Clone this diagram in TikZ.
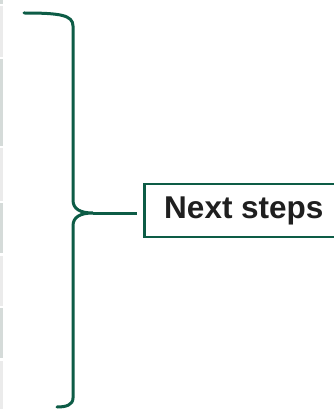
\documentclass[tikz,border=0pt]{standalone}
\usepackage{fontspec}
\setmainfont{Liberation Sans}
\definecolor{brgreen}{HTML}{0D5C46}
\definecolor{stripdark}{HTML}{D5DBD9}
\definecolor{striplight}{HTML}{EBEBEB}
\begin{document}
\begin{tikzpicture}[x=1pt,y=-1pt,
  brace/.style={draw=brgreen,line width=3pt,line cap=round},
  label box/.style={draw=brgreen,line width=2.8pt,fill=white,minimum width=199pt,minimum height=53pt,inner sep=0pt,font=\bfseries\fontsize{31.5}{34}\selectfont,text=black!88},
  stripd/.style={fill=stripdark,draw=none},
  stripl/.style={fill=striplight,draw=none}]
\useasboundingbox (0,0) rectangle (333,409);
\fill[white] (0,0) rectangle (333,409);
% left strips
\path[stripd] (0,0) rectangle (3,4);
\path[stripl] (0,6) rectangle (3,57);
\path[stripd] (0,59) rectangle (3,146);
\path[stripl] (0,148) rectangle (3,201);
\path[stripd] (0,203) rectangle (3,253);
\path[stripl] (0,256) rectangle (3,306);
\path[stripd] (0,308) rectangle (3,358);
\path[stripl] (0,361) rectangle (3,409);
% brace
\coordinate (tip) at (93,213);
\path[brace] (24,13) .. controls (60,13) and (73,15) .. (73,26)
  -- (73,200) .. controls (73,209) and (80,213) .. (tip)
  .. controls (80,213) and (73,217) .. (73,226)
  -- (73,398) .. controls (73,405) and (66,407) .. (57,407);
% box
\node[label box,anchor=west] (box) at (143,210.5) {Next steps};
\draw[brace,line cap=butt] (tip) -- ([xshift=-6pt]box.west |- tip);
\end{tikzpicture}
\end{document}
